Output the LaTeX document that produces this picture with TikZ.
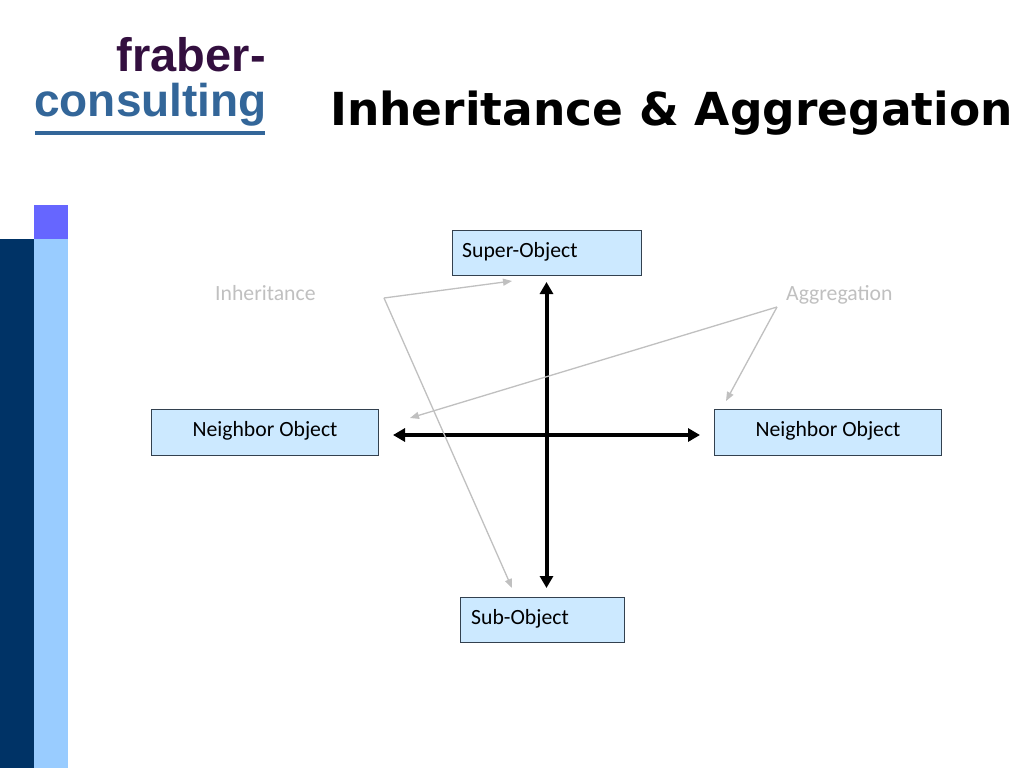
\documentclass[tikz,border=0pt]{standalone}
\usepackage{fontspec}
\setmainfont{Carlito}
\newfontfamily\titlefont{DejaVu Sans}
\newfontfamily\logofont{Liberation Sans}
\usetikzlibrary{arrows.meta}
\definecolor{navy}{HTML}{003366}
\definecolor{lightbar}{HTML}{99CCFF}
\definecolor{violetsq}{HTML}{6666FF}
\definecolor{boxfill}{HTML}{CCE9FF}
\definecolor{boxline}{HTML}{33414F}
\definecolor{logoplum}{HTML}{330F3F}
\definecolor{logoblue}{HTML}{336699}
\definecolor{grayline}{HTML}{C0C0C0}
\tikzset{
  objbox/.style={draw=boxline,line width=1pt,fill=boxfill,minimum height=45.5pt,inner sep=0pt,outer sep=0pt},
  objtext/.style={font=\fontsize{21.7}{24}\selectfont,inner sep=0pt,anchor=base west},
  graytext/.style={font=\fontsize{21.7}{24}\selectfont,text=grayline,inner sep=0pt,anchor=base west},
  bigarrow/.style={line width=4pt,{Triangle[length=12pt,width=13pt]}-{Triangle[length=12pt,width=13pt]}},
  thinarrow/.style={draw=grayline,line width=1.3pt,-{Triangle[length=9pt,width=7pt]}},
}
\begin{document}
\begin{tikzpicture}[x=1pt,y=-1pt]
\useasboundingbox (0,0) rectangle (1024,768);
\fill[white] (0,0) rectangle (1024,768);
% side bars
\fill[navy] (0,239) rectangle (34,768);
\fill[lightbar] (34,239) rectangle (68,768);
\fill[violetsq] (34,205) rectangle (68,239);
% logo
\node[font=\logofont\bfseries\fontsize{47}{50}\selectfont,text=logoplum,inner sep=0pt,anchor=base east] (lg1) at (266,71) {fraber-};
\node[font=\logofont\bfseries\fontsize{46}{50}\selectfont,text=logoblue,inner sep=0pt,anchor=base east] (lg2) at (267,116) {consulting};
\fill[logoblue] (35,131) rectangle (265,135);
% title
\node[font=\titlefont\bfseries\fontsize{45.5}{50}\selectfont,inner sep=0pt,anchor=base west] (title) at (330,125) {Inheritance \& Aggregation};
% boxes
\node[objbox,minimum width=189pt] (super) at (546.5,253) {};
\node[objbox,minimum width=227pt] (nleft) at (265,432.5) {};
\node[objbox,minimum width=227pt] (nright) at (828,432.5) {};
\node[objbox,minimum width=164pt] (sub) at (542.5,620) {};
\node[objtext] (tsuper) at (462,257) {Super-Object};
\node[objtext,anchor=base] (tnleft) at (265,436) {Neighbor Object};
\node[objtext,anchor=base] (tnright) at (828,436) {Neighbor Object};
\node[objtext] (tsub) at (471,624) {Sub-Object};
\node[graytext] (inh) at (215,300) {Inheritance};
\node[graytext] (agg) at (786,300) {Aggregation};
% black cross
\coordinate (vt) at (546.5,282);
\coordinate (vb) at (546.5,588);
\coordinate (hl) at (393,435);
\coordinate (hr) at (700,435);
\draw[bigarrow] (vb) -- (vt);
\draw[bigarrow] (hl) -- (hr);
% gray connectors
\coordinate (ielbow) at (384,298);
\coordinate (iup) at (512,281);
\coordinate (idown) at (512,588);
\coordinate (aelbow) at (777,307);
\coordinate (aleft) at (410,418);
\coordinate (aright) at (726,401);
\draw[thinarrow] (ielbow) -- (iup);
\draw[thinarrow] (ielbow) -- (idown);
\draw[thinarrow] (aelbow) -- (aleft);
\draw[thinarrow] (aelbow) -- (aright);
\end{tikzpicture}
\end{document}
